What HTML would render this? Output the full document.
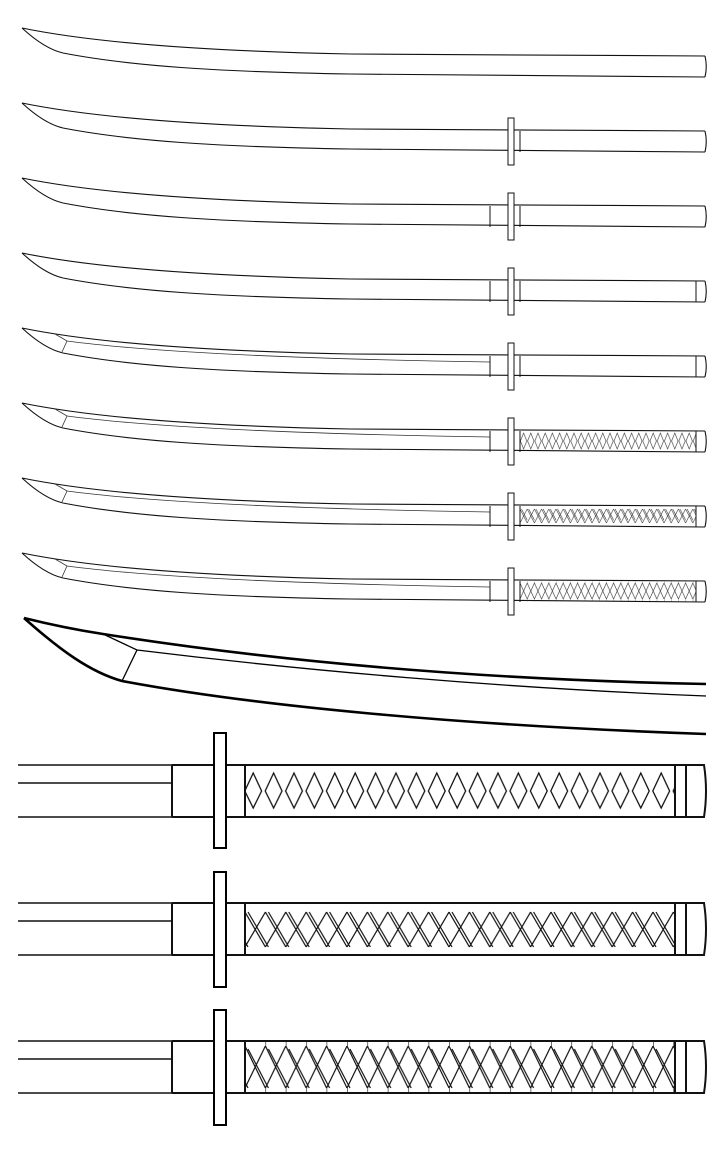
<!DOCTYPE html>
<html><head><meta charset="utf-8"><style>html,body{margin:0;padding:0;background:#fff}svg{display:block}</style></head>
<body>
<svg width="728" height="1170" viewBox="0 0 728 1170" xmlns="http://www.w3.org/2000/svg">
<defs>
  <pattern id="sd" patternUnits="userSpaceOnUse" x="520" y="27" width="7.2" height="22">
    <path d="M0.4,11 L3.6,3 L6.8,11 L3.6,19Z" fill="none" stroke="#333" stroke-width="0.6"/>
  </pattern>
  <pattern id="sx" patternUnits="userSpaceOnUse" x="520" y="27" width="7.2" height="22">
    <path d="M0,4 L7.2,18 M0,18 L7.2,4 M1.5,4 L8.7,18" fill="none" stroke="#333" stroke-width="0.6"/>
  </pattern>
  <pattern id="sy" patternUnits="userSpaceOnUse" x="520" y="27" width="7.2" height="22">
    <path d="M0,3 L7.2,19 M0,19 L7.2,3 M0,0 L0,3 M0,19 L0,22" fill="none" stroke="#333" stroke-width="0.6"/>
  </pattern>
  <pattern id="ld" patternUnits="userSpaceOnUse" x="243" y="0" width="20.4" height="52">
    <path d="M1.8,26 L10.2,8 L18.6,26 L10.2,43Z" fill="none" stroke="#111" stroke-width="1.3"/>
  </pattern>
  <pattern id="lx" patternUnits="userSpaceOnUse" x="245" y="0" width="20.4" height="52">
    <path d="M0,9 L20.4,44 M0,44 L20.4,9 M3,9 L23.4,44 M-17.4,9 L3,44" fill="none" stroke="#111" stroke-width="1.2"/>
  </pattern>
  <pattern id="ly" patternUnits="userSpaceOnUse" x="245" y="0" width="20.4" height="52">
    <path d="M0,5 L20.4,47 M0,47 L20.4,5 M3,8 L23.4,47 M-17.4,8 L3,47 M0,0 L0,5 M0,47 L0,52" fill="none" stroke="#111" stroke-width="1.2"/>
  </pattern>

  <g id="blade" fill="none" stroke="#111" stroke-width="1.1">
    <path d="M22,0 C90,14 200,23 350,26 L705,28"/>
    <path d="M22,0 C35,12 50,22 63,25 C130,38 220,44 350,46 L705,49"/>
    <path d="M705,28 Q707.5,38.5 705,49"/>
  </g>
  <g id="tsuba"><rect x="508" y="15" width="6" height="47" fill="#fff" stroke="#111" stroke-width="1"/><path d="M520,28 L520,49" stroke="#111" stroke-width="1"/></g>
  <path id="hab" d="M490,28 L490,49" stroke="#111" stroke-width="1"/>
  <path id="ring" d="M696,28 L696,49" stroke="#111" stroke-width="1"/>
  <g id="ridge" fill="none" stroke="#333" stroke-width="0.8">
    <path d="M55,6 L67,13 C150,24 300,31 490,34"/>
    <path d="M67,13 L62,24"/>
  </g>

  <g id="hbase" fill="none" stroke="#111" stroke-width="2">
    <path d="M18,0 L172,0 M18,18 L172,18 M18,52 L172,52" stroke-width="1.6"/>
    <path d="M172,0 L686,0 M172,52 L686,52 M172,0 L172,52 M245,0 L245,52 M675,0 L675,52 M686,0 L686,52"/>
    <path d="M686,0 L704,0 Q708,26 704,52 L686,52"/>
  </g>
</defs>

<use href="#blade" transform="translate(0,28)"/>

<use href="#blade" transform="translate(0,103)"/>
<use href="#tsuba" transform="translate(0,103)"/>

<use href="#blade" transform="translate(0,178)"/>
<use href="#hab" transform="translate(0,178)"/>
<use href="#tsuba" transform="translate(0,178)"/>

<use href="#blade" transform="translate(0,253)"/>
<use href="#hab" transform="translate(0,253)"/>
<use href="#ring" transform="translate(0,253)"/>
<use href="#tsuba" transform="translate(0,253)"/>

<use href="#blade" transform="translate(0,328)"/>
<use href="#ridge" transform="translate(0,328)"/>
<use href="#hab" transform="translate(0,328)"/>
<use href="#ring" transform="translate(0,328)"/>
<use href="#tsuba" transform="translate(0,328)"/>

<g transform="translate(0,403)">
  <use href="#blade"/><use href="#ridge"/><use href="#hab"/><use href="#ring"/><use href="#tsuba"/>
  <rect x="520.5" y="28.5" width="175" height="20" fill="url(#sd)"/>
</g>
<g transform="translate(0,478)">
  <use href="#blade"/><use href="#ridge"/><use href="#hab"/><use href="#ring"/><use href="#tsuba"/>
  <rect x="520.5" y="28.5" width="175" height="20" fill="url(#sx)"/>
</g>
<g transform="translate(0,553)">
  <use href="#blade"/><use href="#ridge"/><use href="#hab"/><use href="#ring"/><use href="#tsuba"/>
  <rect x="520.5" y="28.5" width="175" height="20" fill="url(#sy)"/>
</g>

<g fill="none" stroke="#000">
  <path d="M24,618 C60,627 90,632 103,634 C300,665 500,680 706,684" stroke-width="2.6"/>
  <path d="M24,618 C60,650 90,672 122,681 C250,705 450,725 706,734" stroke-width="2.6"/>
  <path d="M103,634 L137,650 C300,670 500,688 706,696" stroke-width="1.3"/>
  <path d="M137,650 L122,681" stroke-width="1.3"/>
</g>

<g transform="translate(0,765)">
  <rect x="246" y="1" width="428" height="50" fill="url(#ld)"/>
  <use href="#hbase"/>
  <rect x="214" y="-32" width="12" height="115" fill="#fff" stroke="#000" stroke-width="2"/>
</g>
<g transform="translate(0,903)">
  <rect x="246" y="1" width="428" height="50" fill="url(#lx)"/>
  <use href="#hbase"/>
  <rect x="214" y="-31" width="12" height="115" fill="#fff" stroke="#000" stroke-width="2"/>
</g>
<g transform="translate(0,1041)">
  <rect x="246" y="1" width="428" height="50" fill="url(#ly)"/>
  <use href="#hbase"/>
  <rect x="214" y="-31" width="12" height="115" fill="#fff" stroke="#000" stroke-width="2"/>
</g>
</svg>
</body></html>
